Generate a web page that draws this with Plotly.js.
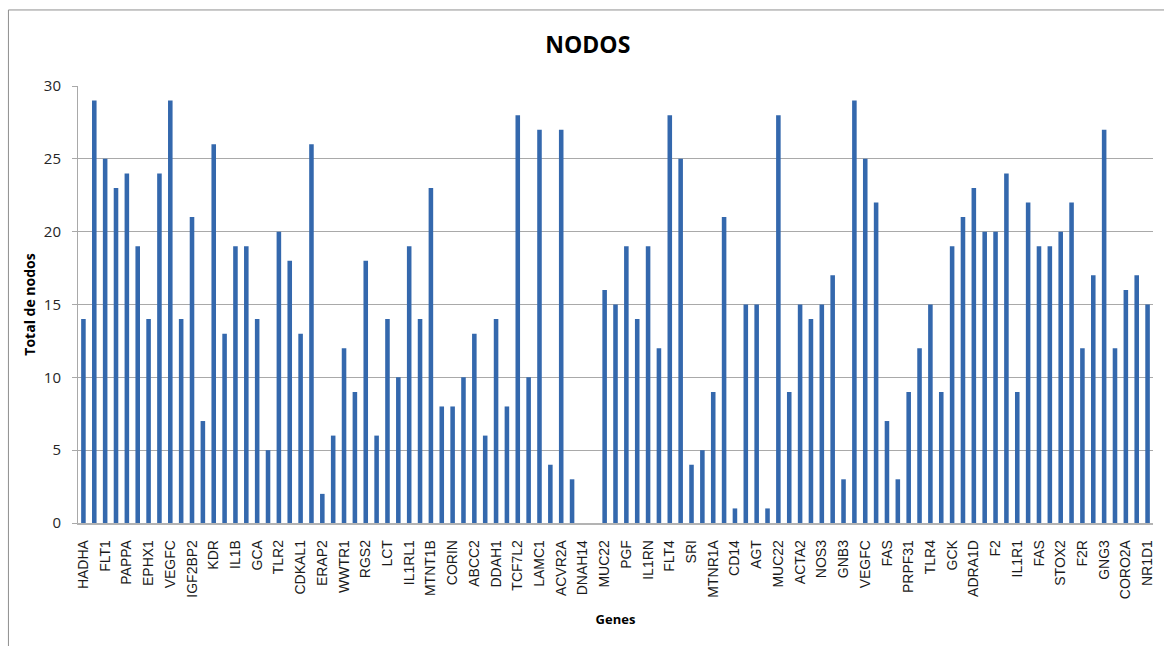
<!DOCTYPE html>
<html>
<head>
<meta charset="utf-8">
<script src="https://cdn.plot.ly/plotly-3.0.1.min.js"></script>
<style>
  html, body { margin: 0; padding: 0; background: #ffffff; }
  #chart { width: 1164px; height: 646px; }
</style>
</head>
<body>
<div id="chart"></div>
<script>
// Node totals per gene, in display order (99 bars)
const nodos = [
  14, 29, 25, 23, 24, 19, 14, 24, 29, 14,
  21, 7, 26, 13, 19, 19, 14, 5, 20, 18,
  13, 26, 2, 6, 12, 9, 18, 6, 14, 10,
  19, 14, 23, 8, 8, 10, 13, 6, 14, 8,
  28, 10, 27, 4, 27, 3, 0, 0, 16, 15,
  19, 14, 19, 12, 28, 25, 4, 5, 9, 21,
  1, 15, 15, 1, 28, 9, 15, 14, 15, 17,
  3, 29, 25, 22, 7, 3, 9, 12, 15, 9,
  19, 21, 23, 20, 20, 24, 9, 22, 19, 19,
  20, 22, 12, 17, 27, 12, 16, 17, 15
];

// Gene names shown on the axis (every other bar carries a label)
const geneLabels = [
  "HADHA", "FLT1", "PAPPA", "EPHX1", "VEGFC", "IGF2BP2", "KDR", "IL1B", "GCA", "TLR2",
  "CDKAL1", "ERAP2", "WWTR1", "RGS2", "LCT", "IL1RL1", "MTNT1B", "CORIN", "ABCC2", "DDAH1",
  "TCF7L2", "LAMC1", "ACVR2A", "DNAH14", "MUC22", "PGF", "IL1RN", "FLT4", "SRI", "MTNR1A",
  "CD14", "AGT", "MUC22", "ACTA2", "NOS3", "GNB3", "VEGFC", "FAS", "PRPF31", "TLR4",
  "GCK", "ADRA1D", "F2", "IL1R1", "FAS", "STOX2", "F2R", "GNG3", "CORO2A", "NR1D1"
];

const yTicks = [0, 5, 10, 15, 20, 25, 30];

const positions = nodos.map((_, i) => i);
const labelPositions = geneLabels.map((_, i) => i * 2);

const trace = {
  type: "bar",
  x: positions,
  y: nodos,
  marker: { color: "#3468ad", line: { width: 0 } },
  hoverinfo: "y"
};

const gridGray = "#a9a9a9";

const layout = {
  width: 1164,
  height: 646,
  margin: { l: 78, r: 11, t: 86, b: 123 },
  paper_bgcolor: "#ffffff",
  plot_bgcolor: "#ffffff",
  bargap: 0.58,
  showlegend: false,
  title: {
    text: "NODOS",
    font: { family: "Open Sans, sans-serif", size: 23, color: "#000000", weight: "bold" },
    x: 0.505, xref: "container", xanchor: "center",
    y: 0.93, yref: "container", yanchor: "middle"
  },
  xaxis: {
    range: [-0.5, nodos.length - 0.5],
    tickmode: "array",
    tickvals: labelPositions,
    ticktext: geneLabels,
    tickangle: -90,
    ticks: "",
    ticklabelstandoff: 10,
    tickfont: { family: "Liberation Sans, Arial, sans-serif", size: 14, color: "#1a1a1a" },
    showgrid: false,
    zeroline: false,
    showline: true,
    linecolor: "#b3b3b3",
    linewidth: 1.5,
    title: {
      text: "Genes",
      font: { family: "Open Sans, sans-serif", size: 13, color: "#000000", weight: "bold" },
      standoff: 16
    },
    fixedrange: true
  },
  yaxis: {
    range: [0, 30],
    tickmode: "array",
    tickvals: yTicks,
    ticks: "outside",
    ticklen: 5,
    tickcolor: gridGray,
    ticklabelstandoff: 8,
    tickfont: { family: "Open Sans, sans-serif", size: 15, color: "#262626" },
    showgrid: true,
    gridcolor: gridGray,
    gridwidth: 1,
    zeroline: false,
    showline: true,
    linecolor: gridGray,
    linewidth: 1,
    title: {
      text: "Total de nodos",
      font: { family: "Open Sans, sans-serif", size: 14, color: "#000000", weight: "bold" },
      standoff: 4
    },
    fixedrange: true
  },
  shapes: [
    {
      // outer chart frame
      type: "rect",
      xref: "paper", yref: "paper",
      x0: -0.0647, x1: 1.02,
      y0: -0.3, y1: 1.174,
      line: { color: "#8f8f8f", width: 1 },
      fillcolor: "rgba(0,0,0,0)",
      layer: "below"
    }
  ]
};

Plotly.newPlot("chart", [trace], layout, { displayModeBar: false, staticPlot: true });
</script>
</body>
</html>
